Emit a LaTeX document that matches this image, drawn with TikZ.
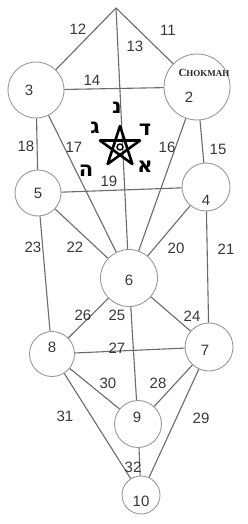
\documentclass[tikz,border=0pt]{standalone}
\usepackage{fontspec}
\setmainfont{Liberation Sans}
\newfontfamily\hebfont[Script=Hebrew]{DejaVu Sans}
\newfontfamily\stampfont{Liberation Serif}
\definecolor{linegray}{gray}{0.42}
\definecolor{ringgray}{gray}{0.6}
\definecolor{inkgray}{gray}{0.22}

\begin{document}
\begin{tikzpicture}[x=1pt,y=-1pt]
\tikzset{
  sephira/.style={circle, draw=ringgray, line width=0.9pt, inner sep=0pt},
  channel/.style={draw=linegray, line width=1.1pt},
  pathno/.style={text=inkgray, inner sep=0pt, font=\fontsize{15}{15}\selectfont},
  hebletter/.style={inner sep=0pt, font=\hebfont\bfseries\fontsize{21}{21}\selectfont}
}
\useasboundingbox (0,0) rectangle (248,524);
\fill[white] (0,0) rectangle (248,524);

% the ten circles
\coordinate (top) at (116,8);
\node[sephira, minimum size=66pt] (s2) at (197,87) {};
\node[sephira, minimum size=56pt] (s3) at (36,90) {};
\node[sephira, minimum size=48pt] (s4) at (206,187) {};
\node[sephira, minimum size=46pt] (s5) at (38,193) {};
\node[sephira, minimum size=57pt] (s6) at (129,278) {};
\node[sephira, minimum size=48pt] (s7) at (209,347) {};
\node[sephira, minimum size=45pt] (s8) at (52,354) {};
\node[sephira, minimum size=47pt] (s9) at (138,424) {};
\node[sephira, minimum size=38pt] (s10) at (141,495) {};

% paths
\draw[channel] (top) -- (s2);
\draw[channel] (top) -- (s3);
\draw[channel] (top) -- (s6);
\draw[channel] (s3) -- (s2);
\draw[channel] (s2) -- (s4);
\draw[channel] (s2) -- (s6);
\draw[channel] (s3) -- (s6);
\draw[channel] (s3) -- (s5);
\draw[channel] (s5) -- (s4);
\draw[channel] (s4) -- (s6);
\draw[channel] (s4) -- (s7);
\draw[channel] (s5) -- (s6);
\draw[channel] (s5) -- (s8);
\draw[channel] (s6) -- (s7);
\draw[channel] (s6) -- (s9);
\draw[channel] (s6) -- (s8);
\draw[channel] (s8) -- (s7);
\draw[channel] (s7) -- (s9);
\draw[channel] (s7) -- (s10);
\draw[channel] (s8) -- (s9);
\draw[channel] (s8) -- (s10);
\draw[channel] (s9) -- (s10);

% pentagram
\begin{scope}[shift={(120,147)}]
\draw[black, line width=2.6pt, line join=round]
  (-90:21) -- (54:21) -- (198:21) -- (-18:21) -- (126:21) -- cycle;
\draw[black, line width=1.4pt] (0,0) circle (3);
\end{scope}
\node[hebletter] (hnun) at (117,108) {נ};
\node[hebletter] (hgimel) at (95,128) {ג};
\node[hebletter] (hdalet) at (145,130) {ד};
\node[hebletter] (halef) at (145,167) {א};
\node[hebletter] (hhe) at (86,171) {ה};

% names and numbers
\node[inner sep=0pt, text=black!85] (chokmah) at (204,73)
  {\stampfont\bfseries\fontsize{11}{11}\selectfont C\fontsize{9}{9}\selectfont HOKMAH};
\node[pathno] (n2) at (189,97) {2};
\node[pathno] (n3) at (29,90) {3};
\node[pathno] (n4) at (206,200) {4};
\node[pathno] (n5) at (38,193) {5};
\node[pathno] (n6) at (129,280) {6};
\node[pathno] (n7) at (205,350) {7};
\node[pathno] (n8) at (52,347) {8};
\node[pathno] (n9) at (137,417) {9};
\node[pathno] (n10) at (141,501) {10};
\node[pathno] (p11) at (168,30) {11};
\node[pathno] (p12) at (78,29) {12};
\node[pathno] (p13) at (135,46) {13};
\node[pathno] (p14) at (92,80) {14};
\node[pathno] (p15) at (218,149) {15};
\node[pathno] (p16) at (167,147) {16};
\node[pathno] (p17) at (74,147) {17};
\node[pathno] (p18) at (26,146) {18};
\node[pathno] (p19) at (109,181) {19};
\node[pathno] (p20) at (176,248) {20};
\node[pathno] (p21) at (226,249) {21};
\node[pathno] (p22) at (75,247) {22};
\node[pathno] (p23) at (33,247) {23};
\node[pathno] (p24) at (192,316) {24};
\node[pathno] (p25) at (117,315) {25};
\node[pathno] (p26) at (83,315) {26};
\node[pathno] (p27) at (117,348) {27};
\node[pathno] (p28) at (158,383) {28};
\node[pathno] (p29) at (201,418) {29};
\node[pathno] (p30) at (108,383) {30};
\node[pathno] (p31) at (65,416) {31};
\node[pathno] (p32) at (133,467) {32};
\end{tikzpicture}
\end{document}
